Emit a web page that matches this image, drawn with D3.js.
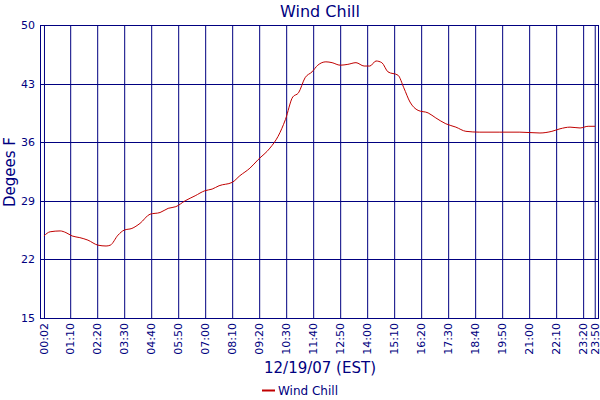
<!DOCTYPE html>
<html><head><meta charset="utf-8">
<script src="https://cdn.jsdelivr.net/npm/d3@7"></script>
<style>body{margin:0;background:#fff}svg{font-family:"DejaVu Sans",Verdana,sans-serif}</style>
</head><body><svg id="c" width="600" height="400"></svg>
<script>
const times=["00:02","00:18","00:44","00:59","01:15","01:35","01:56","02:22","02:43","02:54","03:14","03:30","03:50","04:11","04:37","05:03","05:24","05:44","06:08","06:34","06:59","07:18","07:36","08:10","08:30","08:56","09:17","09:48","10:09","10:28","10:47","11:02","11:19","11:37","11:52","12:13","12:29","12:50","13:10","13:31","13:52","14:07","14:23","14:38","14:54","15:20","15:35","15:51","16:12","16:38","16:58","17:24","17:50","18:16","18:52","19:44","20:36","21:28","21:59","22:20","22:46","23:12","23:33","23:51"];
const windChill=[24.8,25.3,25.4,25.2,24.8,24.6,24.3,23.7,23.6,23.7,24.9,25.5,25.7,26.3,27.4,27.6,28.1,28.3,29.0,29.6,30.2,30.4,30.8,31.2,32.0,32.9,33.9,35.3,36.7,38.7,41.4,41.9,43.7,44.4,45.2,45.6,45.5,45.2,45.3,45.5,45.1,45.1,45.7,45.5,44.4,44.0,42.5,40.8,39.8,39.5,38.9,38.2,37.8,37.3,37.2,37.2,37.2,37.1,37.3,37.6,37.8,37.7,37.9,37.9];
const xTicks=["00:02","01:10","02:20","03:30","04:40","05:50","07:00","08:10","09:20","10:30","11:40","12:50","14:00","15:10","16:20","17:30","18:40","19:50","21:00","22:10","23:20","23:50"];
const yTicks=[15,22,29,36,43,50];
const navy="#000080";
const mins=s=>{const[a,b]=s.split(":").map(Number);return a*60+b;};
const svg=d3.select("#c");
const L=40,R=598,T=25,B=318;
const x=d3.scaleLinear().domain([-8.3,1438.5]).range([L,R]);
const y=d3.scaleLinear().domain([15,50]).range([B,T]);
const g=svg.append("g");
g.selectAll(".vg").data(xTicks).join("line").attr("x1",d=>x(mins(d))+.5).attr("x2",d=>x(mins(d))+.5).attr("y1",T).attr("y2",B).attr("stroke",navy);
g.selectAll(".hg").data(yTicks).join("line").attr("x1",L).attr("x2",R).attr("y1",d=>Math.round(y(d))+.5).attr("y2",d=>Math.round(y(d))+.5).attr("stroke",navy);
g.append("rect").attr("x",L+.5).attr("y",T+.5).attr("width",R-L).attr("height",B-T).attr("fill","none").attr("stroke",navy);
svg.selectAll(".yl").data(yTicks).join("text").attr("x",35).attr("y",d=>y(d)+4).attr("text-anchor","end").attr("font-size",11).attr("fill",navy).text(d=>d);
svg.selectAll(".xl").data(xTicks).join("text").attr("transform",d=>`translate(${x(mins(d))+4},323) rotate(-90)`).attr("text-anchor","end").attr("font-size",11).attr("fill",navy).text(d=>d);
const line=d3.line().x((d,i)=>x(mins(times[i]))).y(d=>y(d)).curve(d3.curveMonotoneX);
svg.append("path").attr("d",line(windChill)).attr("fill","none").attr("stroke","#c00000").attr("stroke-width",1);
svg.append("text").attr("x",320).attr("y",17).attr("text-anchor","middle").attr("font-size",16).attr("fill",navy).text("Wind Chill");
svg.append("text").attr("transform","translate(15,172) rotate(-90)").attr("text-anchor","middle").attr("font-size",15).attr("fill",navy).text("Degees F");
svg.append("text").attr("x",320).attr("y",373).attr("text-anchor","middle").attr("font-size",15).attr("fill",navy).text("12/19/07 (EST)");
svg.append("line").attr("x1",262).attr("x2",275).attr("y1",390.5).attr("y2",390.5).attr("stroke","#c00000").attr("stroke-width",2);
svg.append("text").attr("x",278).attr("y",395).attr("font-size",12).attr("fill",navy).text("Wind Chill");
</script></body></html>
